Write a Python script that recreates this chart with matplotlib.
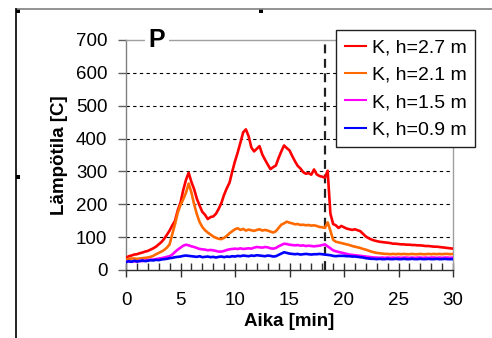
import numpy as np
import matplotlib
matplotlib.use("Agg")
import matplotlib.pyplot as plt
from matplotlib.lines import Line2D
from matplotlib.patches import Rectangle

plt.rcParams['font.family'] = ['Liberation Sans', 'DejaVu Sans']

# ---- data ----
time_min = np.linspace(0, 30, 121)  # sampled every 0.25 min

temp_h27 = [36, 42, 44, 47, 48, 51, 53, 56, 58, 62,
            66, 71, 78, 85, 95, 107, 120, 136, 150, 182,
            205, 243, 274, 296, 268, 246, 217, 196, 177, 168,
            155, 161, 163, 171, 186, 204, 229, 249, 266, 300,
            331, 358, 388, 419, 428, 407, 373, 361, 369, 377,
            352, 336, 321, 307, 313, 318, 341, 361, 379, 371,
            364, 347, 331, 317, 309, 298, 293, 295, 290, 306,
            291, 286, 284, 281, 302, 172, 140, 136, 128, 134,
            130, 126, 124, 122, 124, 121, 118, 110, 102, 97,
            93, 90, 88, 86, 85, 84, 83, 82, 80, 80,
            79, 78, 78, 77, 77, 76, 76, 75, 75, 74,
            73, 73, 72, 71, 71, 70, 69, 68, 67, 66,
            65]

temp_h21 = [32, 34, 35, 35, 34, 35, 36, 37, 38, 40,
            43, 48, 52, 56, 61, 68, 78, 110, 140, 175,
            198, 215, 235, 263, 236, 200, 170, 146, 131, 121,
            114, 108, 102, 98, 95, 94, 98, 104, 112, 118,
            124, 127, 122, 125, 120, 123, 121, 119, 122, 124,
            120, 122, 120, 117, 114, 118, 128, 138, 142, 147,
            144, 142, 139, 140, 137, 138, 136, 137, 135, 136,
            134, 131, 130, 128, 145, 120, 92, 86, 84, 82,
            80, 78, 76, 73, 71, 69, 67, 64, 62, 59,
            56, 54, 52, 51, 50, 49, 49, 48, 49, 48,
            49, 48, 49, 48, 48, 49, 48, 48, 49, 48,
            48, 49, 48, 49, 48, 49, 48, 49, 49, 48,
            49]

temp_h15 = [25, 26, 25, 27, 26, 28, 27, 29, 30, 31,
            32, 33, 35, 36, 38, 40, 42, 47, 55, 62,
            68, 74, 77, 75, 72, 70, 67, 64, 63, 62,
            60, 61, 60, 58, 56, 56, 58, 61, 63, 64,
            65, 64, 66, 64, 65, 66, 65, 68, 70, 69,
            68, 70, 69, 66, 65, 67, 72, 76, 80, 79,
            77, 76, 75, 76, 74, 75, 73, 74, 73, 72,
            73, 74, 76, 78, 72, 66, 60, 57, 55, 53,
            51, 49, 47, 46, 45, 44, 43, 42, 41, 40,
            39, 38, 38, 37, 38, 37, 38, 37, 38, 37,
            38, 37, 38, 38, 37, 38, 37, 38, 38, 37,
            38, 37, 38, 38, 37, 38, 37, 38, 38, 37,
            38]

temp_h09 = [24, 27, 25, 28, 26, 27, 29, 27, 28, 30,
            29, 31, 30, 32, 33, 34, 36, 37, 39, 40,
            41, 43, 44, 43, 42, 41, 40, 42, 39, 40,
            41, 39, 40, 38, 40, 41, 39, 41, 40, 42,
            41, 43, 42, 44, 43, 42, 44, 43, 45, 44,
            43, 42, 44, 43, 41, 42, 46, 50, 54, 52,
            50, 49, 48, 49, 47, 48, 49, 48, 47, 48,
            48, 49, 48, 47, 46, 45, 43, 42, 43, 43,
            43, 42, 42, 41, 41, 40, 39, 38, 36, 35,
            34, 34, 33, 34, 33, 33, 34, 33, 33, 34,
            33, 33, 34, 33, 33, 34, 33, 33, 34, 33,
            33, 34, 33, 33, 34, 33, 33, 34, 33, 33,
            33]

series_labels = ["K, h=2.7 m", "K, h=2.1 m", "K, h=1.5 m", "K, h=0.9 m"]
series_colors = ["#ff0000", "#ff6a00", "#ff00ff", "#0000ff"]
marker_time = 18.26
x_ticks = [0, 5, 10, 15, 20, 25, 30]
y_ticks = [0, 100, 200, 300, 400, 500, 600, 700]

# ---- figure ----
W, H = 492, 338
fig = plt.figure(figsize=(W / 100, H / 100), dpi=100)
fig.patch.set_facecolor("white")

def fx(px):
    return px / W

def fy(py):
    return 1 - py / H

ax = fig.add_axes([fx(126), fy(270), fx(453) - fx(126), fy(40) - fy(270)])

for vals, lab, col in zip([temp_h27, temp_h21, temp_h15, temp_h09], series_labels, series_colors):
    ax.plot(time_min, vals, color=col, lw=1.9, label=lab, zorder=3)

ax.set_xlim(0, 30)
ax.set_ylim(0, 700)
ax.set_xticks(x_ticks)
ax.set_xticks(np.arange(0, 31, 1), minor=True)
ax.set_yticks(y_ticks)

for yv in y_ticks[1:-1]:
    ax.axhline(yv, color="black", lw=0.8, ls=(0, (3, 3)), zorder=1)

ax.axvline(marker_time, color="#202020", lw=1.6, ls=(0, (4, 2.5)), zorder=2)

for s in ["top", "right"]:
    ax.spines[s].set_color("#a0a0a0")
    ax.spines[s].set_linewidth(1.0)
ax.spines["left"].set_color("#808080")
ax.spines["bottom"].set_color("#303030")
ax.spines["left"].set_linewidth(1.0)
ax.spines["bottom"].set_linewidth(1.0)

ax.tick_params(axis="x", which="major", direction="inout", length=10, width=1,
               color="#303030", pad=11, labelsize=13.5)
ax.tick_params(axis="x", which="minor", direction="in", length=5, width=1, color="#303030")
ax.tick_params(axis="y", which="major", direction="out", length=6, width=1,
               color="#606060", pad=7.5, labelsize=13.5)

ax.set_xlabel("Aika [min]", fontsize=13.5, fontweight="bold")
ax.set_ylabel("Lämpötila [C]", fontsize=13.5, fontweight="bold")
ax.xaxis.set_label_coords(0.5, -0.185)
ax.yaxis.set_label_coords(-0.178, 0.5)

ax.text(0.095, 0.998, "P", transform=ax.transAxes, fontsize=18, fontweight="bold",
        ha="center", va="center", zorder=6,
        bbox=dict(facecolor="white", edgecolor="none", pad=2.5))

leg = ax.legend(loc="upper left", bbox_to_anchor=(fx(336), fy(30)),
                bbox_transform=fig.transFigure, borderaxespad=0, frameon=True,
                fancybox=False, framealpha=1, edgecolor="#202020", fontsize=14,
                handlelength=1.1, handletextpad=0.3, borderpad=0.45,
                labelspacing=0.5)
leg.get_frame().set_linewidth(1.0)
leg.set_zorder(10)
for lh in leg.get_lines():
    lh.set_linewidth(1.5)

# outer chart-object frame and selection handles
fig.add_artist(Line2D([fx(16), 1.0], [fy(8.7), fy(8.7)], color="#808080", lw=1.2))
fig.add_artist(Line2D([fx(16), fx(16)], [fy(8.7), 0.0], color="black", lw=1.2))
for hx, hy in [(16, 9), (259, 9), (16, 175)]:
    fig.add_artist(Rectangle((fx(hx), fy(hy + 4)), fx(4), 4 / H,
                             facecolor="black", edgecolor="none"))

fig.savefig("out.png", dpi=100)
